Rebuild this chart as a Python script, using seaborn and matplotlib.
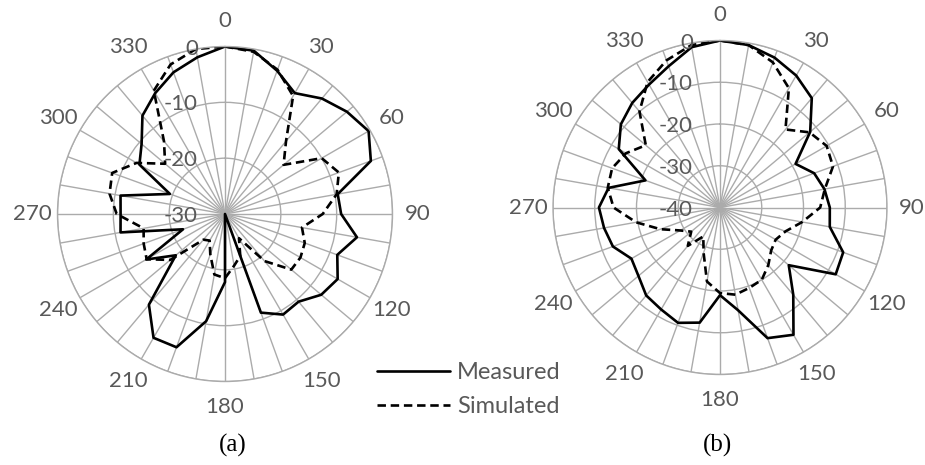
import numpy as np
import pandas as pd
import seaborn as sns
import matplotlib
matplotlib.use("Agg")
import matplotlib.pyplot as plt

sns.set_style("white")
plt.rcParams["font.family"] = ["Lato", "DejaVu Sans"]

# Pattern cuts sampled every 10 degrees (dB)
angles_deg = list(range(0, 360, 10))

a_measured = [0, -0.3, -2.7, -5, -3, -1.5, -0.3, -2.2, -9.5, -9.2,
              -6, -8.6, -6.7, -7.5, -9.5, -9.2, -11.2, -30, -17.8, -10.5,
              -4.6, -4.4, -8.8, -18.5, -13.7, -22, -11, -11.3, -11, -19.5,
              -12.3, -10.5, -7, -5, -3, -1.5]
a_simulated = [0, -0.5, -2.5, -5.6, -13, -16.3, -10, -8.3, -9.7, -12.5,
               -16, -14.8, -14.4, -14.5, -19, -25, -22, -20.6, -18.5, -19,
               -22.3, -24.5, -24, -17.2, -13.8, -14.5, -15.2, -10.6, -9, -8.5,
               -11.7, -16, -13, -4.5, -1.5, 0]

b_measured = [0, -0.5, -1.8, -3.5, -5.8, -11.8, -19.1, -16, -14.6, -13.7,
              -13.3, -8.6, -8, -18.5, -12.7, -4.8, -6.7, -15, -19, -12,
              -10.6, -11.8, -12.5, -14.5, -15.5, -12.7, -11.8, -11, -12.9, -21,
              -12, -9, -7.3, -6, -4, -1]
b_simulated = [0, -0.5, -3, -7, -15.6, -12, -10.5, -11.2, -14.5, -16,
               -20, -23.3, -24.6, -24, -22, -20, -19.5, -18.8, -19.5, -22,
               -28.5, -32, -28, -31, -29, -24.8, -19.6, -14.5, -12.7, -12.5,
               -14, -16.8, -10, -5.3, -2.5, -0.5]

angle_labels = [str(a) for a in range(0, 360, 30)]
a_rticks = [0, -10, -20, -30]
b_rticks = [0, -10, -20, -30, -40]

GRID = "#ababab"
TEXT = "#595959"
FS = 16

fig = plt.figure(figsize=(9.25, 4.65), dpi=100)


def closed(vals):
    th = np.deg2rad(angles_deg + [360])
    return th, list(vals) + [vals[0]]


def radar(rect, measured, simulated, rticks, caption, cap_x):
    ax = fig.add_axes(rect, projection="polar")
    ax.set_theta_zero_location("N")
    ax.set_theta_direction(-1)
    rmin, rmax = min(rticks), max(rticks)

    th, m = closed(measured)
    sns.lineplot(x=th, y=m, ax=ax, color="black", lw=1.9, sort=False,
                 estimator=None, label="Measured", legend=False)
    th, s = closed(simulated)
    sns.lineplot(x=th, y=s, ax=ax, color="black", lw=1.9, sort=False,
                 estimator=None, label="Simulated", legend=False,
                 dashes=False)
    ax.lines[-1].set_linestyle((0, (3.2, 1.8)))

    ax.set_ylim(rmin, rmax)
    ax.set_xlabel("")
    ax.set_ylabel("")
    ax.set_thetagrids(angles_deg, labels=[""] * len(angles_deg))
    ax.set_rgrids(rticks, labels=[""] * len(rticks))
    ax.grid(True, color=GRID, lw=1.0)
    ax.spines["polar"].set_color(GRID)
    ax.spines["polar"].set_linewidth(1.0)
    ax.set_axisbelow(True)

    span = rmax - rmin
    r_lab = rmin + 1.15 * span
    for deg, lbl in zip(range(0, 360, 30), angle_labels):
        ax.text(np.deg2rad(deg), r_lab, lbl, ha="center", va="center",
                fontsize=FS, color=TEXT, clip_on=False)
    for rv in rticks:
        ax.annotate(str(rv), xy=(0, rv), xytext=(-19.5, -1.5),
                    textcoords="offset points", ha="right", va="center",
                    fontsize=FS, color=TEXT, annotation_clip=False)
    fig.text(cap_x, 20 / 465, caption, ha="center", va="center",
             fontsize=18, family="Liberation Serif", color="black")
    return ax


ax_a = radar([57.5 / 925, 83.5 / 465, 335 / 925, 335 / 465],
             a_measured, a_simulated, a_rticks, "(a)", 233 / 925)
ax_b = radar([553 / 925, 90.5 / 465, 334 / 925, 334 / 465],
             b_measured, b_simulated, b_rticks, "(b)", 718 / 925)

handles = ax_a.lines[:2]
fig.legend(handles, ["Measured", "Simulated"], loc="upper left",
           bbox_to_anchor=(377 / 925, 1 - 362 / 465), frameon=False,
           handlelength=3.1, handletextpad=0.3, labelspacing=0.55,
           borderpad=0, borderaxespad=0, fontsize=FS + 1, labelcolor=TEXT)

fig.savefig("out.png", dpi=100, facecolor="white")
